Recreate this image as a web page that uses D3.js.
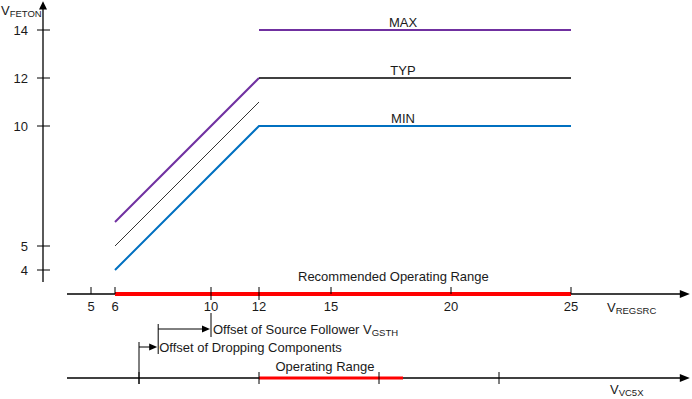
<!DOCTYPE html>
<html>
<head>
<meta charset="utf-8">
<script src="https://cdn.jsdelivr.net/npm/d3@7"></script>
<style>
  body { margin: 0; background: #fff; }
  svg { display: block; font-family: Arial, "Liberation Sans", sans-serif; }
</style>
</head>
<body>
<svg id="chart" width="692" height="399"></svg>
<script>
// tick values
const xTicks = [5, 6, 10, 12, 15, 20, 25];
const yTicks = [4, 5, 10, 12, 14];
const vc5xTicks = [7, 12, 17, 22];

// curves (V_REGSRC, V_FETON)
const minLine = [[6, 4], [12, 10], [25, 10]];
const typRamp = [[6, 5], [12, 11]];
const typFlat = [[12, 12], [25, 12]];
const maxRamp = [[6, 6], [12, 12]];
const maxFlat = [[12, 14], [25, 14]];

// ranges / offsets
const recommendedRange = [6, 25];
const operatingRange = [12, 18];
const droppingOffset = [7, 7.8];
const followerOffset = [7.8, 10];

const curveLabels = [
  { text: "MAX", x: 18, y: 14 },
  { text: "TYP", x: 18, y: 12 },
  { text: "MIN", x: 18, y: 10 },
];

const textColor = "#1a1a1a";
const svg = d3.select("#chart");

const x = d3.scaleLinear().domain([6, 25]).range([115, 571]);
const y = d3.scaleLinear().domain([4, 14]).range([270, 30]);

const axisY = 294; // main x axis baseline
const yAxisX = 43;
const lowY = 378;

// ---- Y axis
svg.append("line")
  .attr("x1", yAxisX).attr("x2", yAxisX)
  .attr("y1", y(3.5)).attr("y2", y(14.9))
  .attr("stroke", "#000").attr("stroke-width", 1.3);
svg.append("path")
  .attr("d", `M${yAxisX - 4},${y(14.85)} L${yAxisX + 4},${y(14.85)} L${yAxisX},${y(15.2)} Z`)
  .attr("fill", "#000");

svg.append("g").selectAll("line")
  .data(yTicks)
  .join("line")
  .attr("x1", yAxisX - 6).attr("x2", yAxisX + 7)
  .attr("y1", (d) => y(d)).attr("y2", (d) => y(d))
  .attr("stroke", "#000");

svg.append("g").selectAll("text")
  .data(yTicks)
  .join("text")
  .attr("x", 28)
  .attr("y", (d) => y(d))
  .attr("dy", "0.36em")
  .attr("text-anchor", "end")
  .attr("font-size", 13)
  .attr("fill", textColor)
  .text((d) => d);

const yLab = svg.append("text").attr("x", 1).attr("y", 15)
  .attr("font-size", 13).attr("fill", textColor);
yLab.append("tspan").text("V");
yLab.append("tspan").attr("font-size", 9.5).attr("dy", 2).text("FETON");

// ---- main X axis
const drawAxis = (yPos, x0, x1) => {
  svg.append("line")
    .attr("x1", x(x0)).attr("x2", x(x1) - 6)
    .attr("y1", yPos).attr("y2", yPos)
    .attr("stroke", "#000").attr("stroke-width", 1.3);
  svg.append("path")
    .attr("d", `M${x(x1) - 10},${yPos - 4} L${x(x1) - 10},${yPos + 4} L${x(x1)},${yPos} Z`)
    .attr("fill", "#000");
};

drawAxis(axisY, 4, 29.95);

// recommended range (red)
svg.append("line")
  .attr("x1", x(recommendedRange[0])).attr("x2", x(recommendedRange[1]))
  .attr("y1", axisY).attr("y2", axisY)
  .attr("stroke", "#ff0000").attr("stroke-width", 4);

svg.append("g").selectAll("line")
  .data(xTicks)
  .join("line")
  .attr("x1", (d) => x(d)).attr("x2", (d) => x(d))
  .attr("y1", axisY - 7)
  .attr("y2", (d) => (d === 10 || d === 12 ? axisY + 6 : axisY))
  .attr("stroke", "#000");

svg.append("g").selectAll("text")
  .data(xTicks)
  .join("text")
  .attr("x", (d) => x(d))
  .attr("y", 311)
  .attr("text-anchor", "middle")
  .attr("font-size", 13)
  .attr("fill", textColor)
  .text((d) => d);

svg.append("text")
  .attr("x", x(17.6))
  .attr("y", 281)
  .attr("text-anchor", "middle")
  .attr("font-size", 13)
  .attr("fill", textColor)
  .text("Recommended Operating Range");

const xLab = svg.append("text").attr("x", 607).attr("y", 312)
  .attr("font-size", 13).attr("fill", textColor);
xLab.append("tspan").text("V");
xLab.append("tspan").attr("font-size", 9.5).attr("dy", 2).text("REGSRC");

// ---- curves
const line = d3.line().x((d) => x(d[0])).y((d) => y(d[1]));

const curves = [
  { data: maxFlat, color: "#7030a0", w: 2 },
  { data: maxRamp, color: "#7030a0", w: 2 },
  { data: typFlat, color: "#000", w: 1.3 },
  { data: typRamp, color: "#000", w: 0.8 },
  { data: minLine, color: "#0070c0", w: 2 },
];

svg.append("g").selectAll("path")
  .data(curves)
  .join("path")
  .attr("d", (d) => line(d.data))
  .attr("fill", "none")
  .attr("stroke", (d) => d.color)
  .attr("stroke-width", (d) => d.w);

svg.append("g").selectAll("text")
  .data(curveLabels)
  .join("text")
  .attr("x", (d) => x(d.x))
  .attr("y", (d) => y(d.y) - 3)
  .attr("text-anchor", "middle")
  .attr("font-size", 13)
  .attr("fill", textColor)
  .text((d) => d.text);

// ---- offset annotations
const arrow = (from, to, yPos) => {
  svg.append("line")
    .attr("x1", x(from)).attr("x2", x(to) - 8)
    .attr("y1", yPos).attr("y2", yPos)
    .attr("stroke", "#000");
  svg.append("path")
    .attr("d", `M${x(to) - 9},${yPos - 3.5} L${x(to) - 9},${yPos + 3.5} L${x(to) - 1},${yPos} Z`)
    .attr("fill", "#000");
};

// vertical guides
const guides = [
  { v: followerOffset[1], y1: 313, y2: 337 },
  { v: followerOffset[0], y1: 324, y2: 354 },
  { v: droppingOffset[0], y1: 342, y2: lowY + 6 },
];
svg.append("g").selectAll("line")
  .data(guides)
  .join("line")
  .attr("x1", (d) => x(d.v)).attr("x2", (d) => x(d.v))
  .attr("y1", (d) => d.y1).attr("y2", (d) => d.y2)
  .attr("stroke", "#000");

arrow(followerOffset[0], followerOffset[1], 329);
arrow(droppingOffset[0], droppingOffset[1], 347);

const fLab = svg.append("text").attr("x", x(followerOffset[1]) + 2).attr("y", 334)
  .attr("font-size", 13).attr("fill", textColor);
fLab.append("tspan").text("Offset of Source Follower V");
fLab.append("tspan").attr("font-size", 9.5).attr("dy", 2).text("GSTH");

svg.append("text")
  .attr("x", x(droppingOffset[1]) + 1).attr("y", 352)
  .attr("font-size", 13).attr("fill", textColor)
  .text("Offset of Dropping Components");

// ---- V_VC5X axis
drawAxis(lowY, 4, 29.95);

svg.append("line")
  .attr("x1", x(operatingRange[0])).attr("x2", x(operatingRange[1]))
  .attr("y1", lowY).attr("y2", lowY)
  .attr("stroke", "#ff0000").attr("stroke-width", 3);

svg.append("g").selectAll("line")
  .data(vc5xTicks)
  .join("line")
  .attr("x1", (d) => x(d)).attr("x2", (d) => x(d))
  .attr("y1", lowY - 6).attr("y2", lowY + 6)
  .attr("stroke", "#000");

svg.append("text")
  .attr("x", x(14.75)).attr("y", 371)
  .attr("text-anchor", "middle")
  .attr("font-size", 13).attr("fill", textColor)
  .text("Operating Range");

const vLab = svg.append("text").attr("x", 610).attr("y", 394)
  .attr("font-size", 13).attr("fill", textColor);
vLab.append("tspan").text("V");
vLab.append("tspan").attr("font-size", 9.5).attr("dy", 2).text("VC5X");
</script>
</body>
</html>
